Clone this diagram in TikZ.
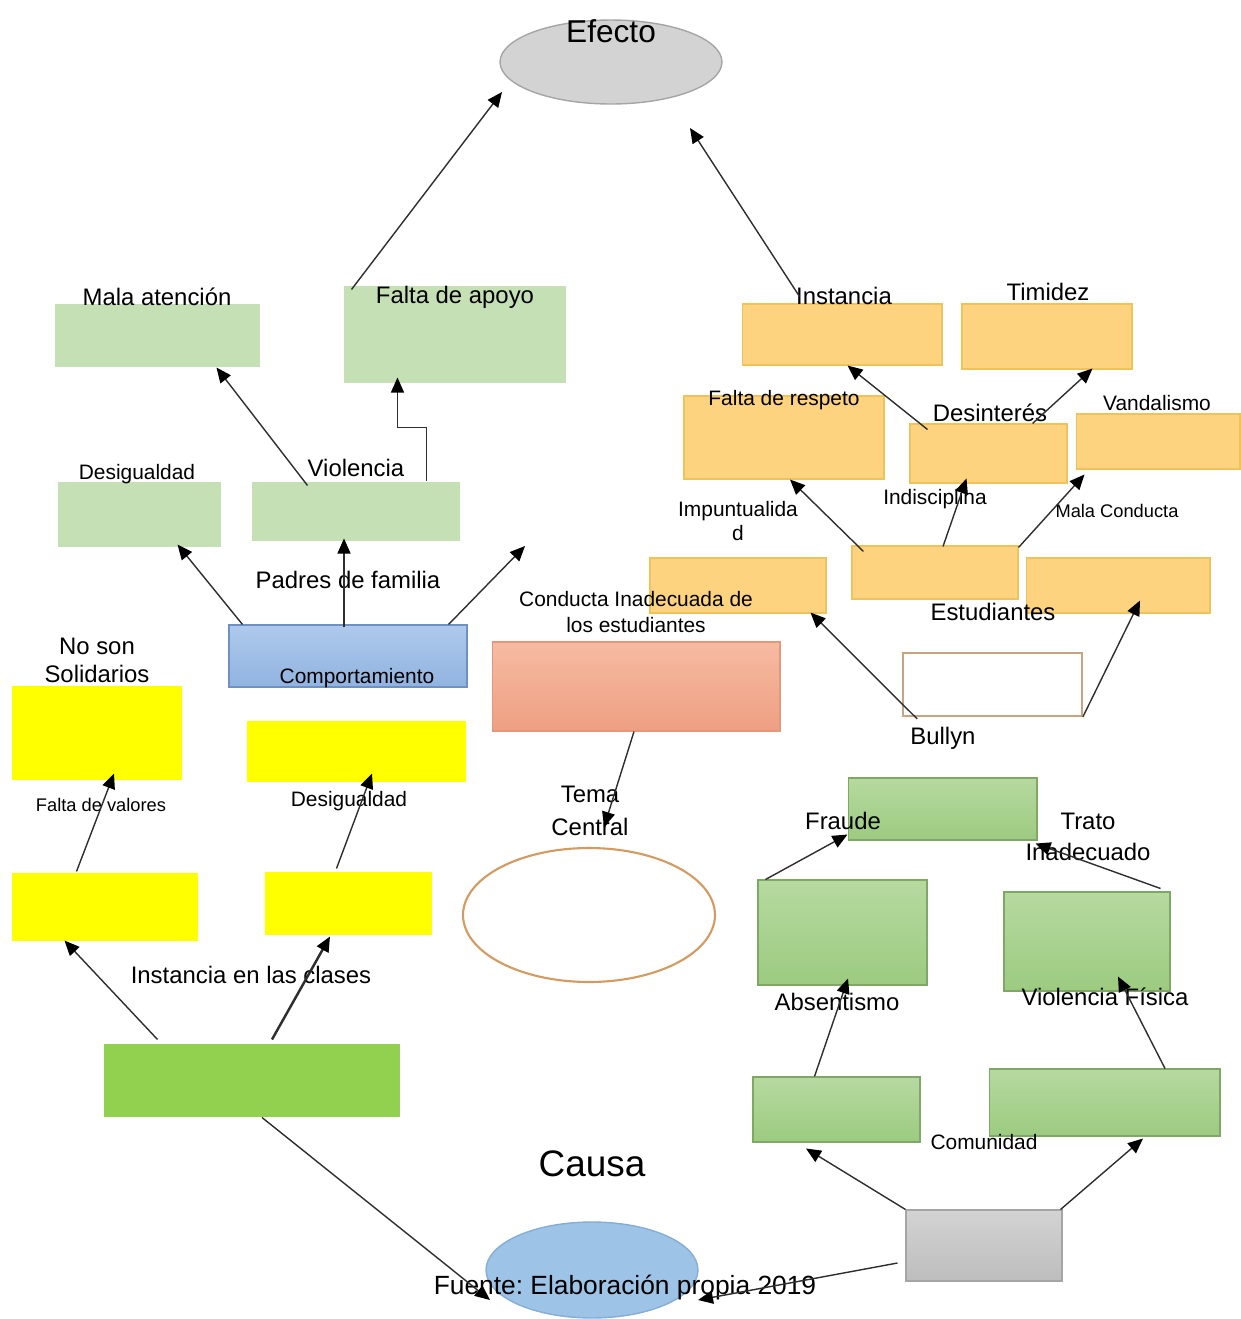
\documentclass[tikz,border=0pt]{standalone}
\usepackage{fontspec}
\setmainfont{Liberation Sans}
\usetikzlibrary{arrows.meta,calc,shapes.geometric}
\frenchspacing
\definecolor{cHoja}{HTML}{C5E0B4}
\definecolor{cNaranja}{HTML}{FDD37F}
\definecolor{cNaranjaBorde}{HTML}{EFC35C}
\definecolor{cAmarillo}{HTML}{FFFF00}
\definecolor{cVerdeVivo}{HTML}{92D050}
\definecolor{cVerdeA}{HTML}{B6D9A0}
\definecolor{cVerdeB}{HTML}{9CCB80}
\definecolor{cVerdeBorde}{HTML}{7FA866}
\definecolor{cAzulA}{HTML}{AFC9EC}
\definecolor{cAzulB}{HTML}{90B3E0}
\definecolor{cAzulBorde}{HTML}{6F90C2}
\definecolor{cSalmonA}{HTML}{F6BBA2}
\definecolor{cSalmonB}{HTML}{EE9F82}
\definecolor{cSalmonBorde}{HTML}{E3987D}
\definecolor{cGrisA}{HTML}{D3D3D3}
\definecolor{cGrisB}{HTML}{BDBDBD}
\definecolor{cGrisBorde}{HTML}{A5A5A5}
\definecolor{cCausa}{HTML}{9DC3E6}
\definecolor{cCausaBorde}{HTML}{86ADD6}
\definecolor{cTema}{HTML}{D39A62}
\definecolor{cBullyn}{HTML}{C9A482}
\definecolor{cFlecha}{HTML}{2E2E2E}

\begin{document}
\begin{tikzpicture}[x=0.02cm, y=-0.02cm,
  caja/.style={rectangle, inner sep=0pt, line width=0.6pt},
  ovalo/.style={ellipse, inner sep=0pt, line width=0.8pt},
  hoja/.style={caja, fill=cHoja},
  naranja/.style={caja, fill=cNaranja, draw=cNaranjaBorde},
  amarilla/.style={caja, fill=cAmarillo},
  verde/.style={caja, top color=cVerdeA, bottom color=cVerdeB, draw=cVerdeBorde},
  txt/.style={inner sep=0pt, align=center, font=\fontsize{13.6}{16}\selectfont},
  txtm/.style={txt, font=\fontsize{11.9}{14}\selectfont},
  txts/.style={txt, font=\fontsize{10.4}{12}\selectfont},
  flecha/.style={draw=cFlecha, line width=0.8pt, -{Triangle[length=0.3cm, width=0.26cm, color=black]}}]

\useasboundingbox (0,0) rectangle (1241,1319);

\node[ovalo, fill=cGrisA, draw=cGrisBorde, minimum width=4.44cm, minimum height=1.68cm] (efecto) at (611,62) {};
\node[ovalo, fill=cCausa, draw=cCausaBorde, minimum width=4.24cm, minimum height=1.92cm] (causa) at (592,1270) {};
\node[ovalo, fill=white, draw=cTema, line width=1.2pt, minimum width=5.04cm, minimum height=2.68cm] (tema) at (589,915) {};

\node[hoja, minimum width=4.10cm, minimum height=1.26cm] (malaat) at (157.5,335.5) {};
\node[hoja, minimum width=4.44cm, minimum height=1.94cm] (apoyo) at (455,334.5) {};
\node[hoja, minimum width=3.26cm, minimum height=1.30cm] (desig) at (139.5,514.5) {};
\node[hoja, minimum width=4.16cm, minimum height=1.18cm] (viol) at (356,511.5) {};
\node[caja, top color=cAzulA, bottom color=cAzulB, draw=cAzulBorde, minimum width=4.76cm, minimum height=1.24cm] (comport) at (348,656) {};
\node[caja, top color=cSalmonA, bottom color=cSalmonB, draw=cSalmonBorde, minimum width=5.76cm, minimum height=1.78cm] (conducta) at (636,686.5) {};

\node[naranja, minimum width=4.00cm, minimum height=1.22cm] (inst) at (842,334.5) {};
\node[naranja, minimum width=3.40cm, minimum height=1.30cm] (timid) at (1047,336.5) {};
\node[naranja, minimum width=4.00cm, minimum height=1.66cm] (respeto) at (784,437.5) {};
\node[naranja, minimum width=3.14cm, minimum height=1.18cm] (desint) at (988.5,453.5) {};
\node[naranja, minimum width=3.28cm, minimum height=1.10cm] (vandal) at (1158,441.5) {};
\node[naranja, minimum width=3.52cm, minimum height=1.10cm] (impunt) at (738,585.5) {};
\node[naranja, minimum width=3.32cm, minimum height=1.06cm] (estud) at (935,572.5) {};
\node[naranja, minimum width=3.68cm, minimum height=1.10cm] (malacond) at (1118,585.5) {};
\node[caja, fill=white, draw=cBullyn, line width=1pt, minimum width=3.58cm, minimum height=1.26cm] (bullyn) at (992.5,684.5) {};

\node[amarilla, minimum width=3.40cm, minimum height=1.88cm] (nosol) at (97,733) {};
\node[amarilla, minimum width=4.38cm, minimum height=1.22cm] (desigdos) at (356.5,751.5) {};
\node[amarilla, minimum width=3.72cm, minimum height=1.36cm] (valores) at (105,907) {};
\node[amarilla, minimum width=3.34cm, minimum height=1.26cm] (desigtres) at (348.5,903.5) {};
\node[caja, fill=cVerdeVivo, minimum width=5.92cm, minimum height=1.46cm] (instclas) at (252,1080.5) {};

\node[verde, minimum width=3.78cm, minimum height=1.24cm] (fraude) at (942.5,809) {};
\node[verde, minimum width=3.38cm, minimum height=2.10cm] (absent) at (842.5,932.5) {};
\node[verde, minimum width=3.32cm, minimum height=1.98cm] (violfis) at (1087,941.5) {};
\node[verde, minimum width=3.34cm, minimum height=1.30cm] (absbajo) at (836.5,1109.5) {};
\node[verde, minimum width=4.62cm, minimum height=1.34cm] (comun) at (1104.5,1102.5) {};
\node[caja, top color=cGrisA, bottom color=cGrisB, draw=cGrisBorde, minimum width=3.12cm, minimum height=1.42cm] (gris) at (984,1245.5) {};

\node[txt, font=\fontsize{18}{21}\selectfont] (tEfecto) at (611,31) {Efecto};
\node[txt, font=\fontsize{21}{25}\selectfont] (tCausa) at (592,1164) {Causa};
\node[txt, font=\fontsize{15}{18}\selectfont] (tFuente) at (625,1288) {Fuente: Elaboración propia 2019};
\node[txt] (tMalaat) at (157,297) {Mala atención};
\node[txt] (tApoyo) at (455,297) {Falta de apoyo};
\node[txtm] (tDesig) at (137,474) {Desigualdad};
\node[txt] (tViol) at (356,468) {Violencia};
\node[txt] (tPadres) at (348,580) {Padres de familia};
\node[txtm] (tComport) at (357,678) {Comportamiento};
\node[txtm, font=\fontsize{11.9}{15.3}\selectfont] (tConducta) at (636,612) {Conducta Inadecuada de\\los estudiantes};
\node[txt] (tInst) at (844,296) {Instancia};
\node[txt] (tTimid) at (1048,292) {Timidez};
\node[txtm] (tRespeto) at (784,400) {Falta de respeto};
\node[txt] (tDesint) at (990,413) {Desinterés};
\node[txtm] (tVandal) at (1157,403) {Vandalismo};
\node[txtm, font=\fontsize{11.9}{14.2}\selectfont] (tImpunt) at (738,521) {Impuntualida\\d};
\node[txtm] (tIndisc) at (935,499) {Indisciplina};
\node[txts] (tMalacond) at (1117,511) {Mala Conducta};
\node[txt] (tEstud) at (993,612) {Estudiantes};
\node[txt] (tBullyn) at (943,738) {Bullyn};
\node[txt, font=\fontsize{13.6}{15.9}\selectfont] (tNosol) at (97,660) {No son\\Solidarios};
\node[txts] (tValores) at (101,805) {Falta de valores};
\node[txtm] (tDesigdos) at (349,801) {Desigualdad};
\node[txt] (tInstclas) at (251,975) {Instancia en las clases};
\node[txt, font=\fontsize{13.6}{18.7}\selectfont] (tTema) at (590,811) {Tema\\Central};
\node[txt] (tFraude) at (843,821) {Fraude};
\node[txt, font=\fontsize{13.6}{18}\selectfont] (tTrato) at (1088,837) {Trato\\Inadecuado};
\node[txt] (tAbsent) at (837,1002) {Absentismo};
\node[txt] (tViolfis) at (1105,997) {Violencia Física};
\node[txtm] (tComun) at (984,1142) {Comunidad};

\coordinate (padresfin) at (525,546);

\draw[flecha] ($(apoyo.north west)+(8,4)$) -- ($(efecto.center)+(-109,30)$);
\draw[flecha] ($(inst.north west)+(58,-7)$) -- ($(efecto.center)+(79,66)$);
\draw[flecha] ($(viol.north west)+(56,4)$) -- ($(malaat.south west)+(162,0)$);
\draw[flecha] ($(viol.north east)+(-34,0)$) -- ++(0,-54) -| ($(apoyo.south west)+(54,-6)$);
\draw[flecha] ($(comport.north west)+(14,0)$) -- ($(desig.south west)+(120,-3)$);
\draw[flecha] ($(comport.north)+(-4,3)$) -- ($(viol.south)+(-12,-3)$);
\draw[flecha] ($(comport.north east)+(-19,0)$) -- (padresfin);
\draw[flecha] ($(desint.north west)+(18,6)$) -- ($(inst.south west)+(106,0)$);
\draw[flecha] ($(desint.north east)+(-35,0)$) -- ($(timid.south east)+(-40,-1)$);
\draw[flecha] ($(estud.north west)+(12,6)$) -- ($(respeto.south)+(6,0)$);
\draw[flecha] ($(estud.north)+(8,1)$) -- ($(desint.south)+(-22,-5)$);
\draw[flecha] ($(estud.north east)+(0,2)$) -- ($(vandal.south west)+(9,5)$);
\draw[flecha] ($(bullyn.south west)+(15,2)$) -- ($(impunt.south east)+(-16,-1)$);
\draw[flecha] (bullyn.south east) -- ($(malacond.south)+(22,-13)$);
\draw[flecha] ($(conducta.south)+(-2,0)$) -- ($(tema.north)+(15,-20)$);
\draw[flecha] ($(valores.north west)+(65,-1)$) -- ($(nosol.south)+(17,-7)$);
\draw[flecha] ($(desigtres.north)+(-12,-3)$) -- ($(desigdos.south)+(15.5,-9)$);
\draw[flecha] ($(instclas.north west)+(54,-4)$) -- ($(valores.south west)+(53,-1)$);
\draw[flecha, line width=1.4pt] ($(instclas.north)+(20,-4)$) -- ($(desigtres.south)+(-18.5,1)$);
\draw[flecha] ($(instclas.south)+(10,0)$) -- ($(causa.center)+(-102,30)$);
\draw[flecha] ($(absent.north west)+(8,0)$) -- ($(fraude.south west)+(0,-6)$);
\draw[flecha] ($(violfis.north east)+(-10,-3)$) -- ($(fraude.south east)+(-2,3)$);
\draw[flecha] ($(absbajo.north west)+(62,0)$) -- ($(absent.south)+(5.5,-7)$);
\draw[flecha] ($(comun.north)+(60.5,0)$) -- ($(violfis.south)+(31,-15)$);
\draw[flecha] (gris.north west) -- ($(absbajo.south)+(-30.5,6)$);
\draw[flecha] ($(gris.north east)+(-2,0)$) -- ($(comun.south)+(38.5,2)$);
\draw[flecha] ($(gris.west)+(-8,17.5)$) -- ($(causa.center)+(106,30)$);
\end{tikzpicture}
\end{document}
